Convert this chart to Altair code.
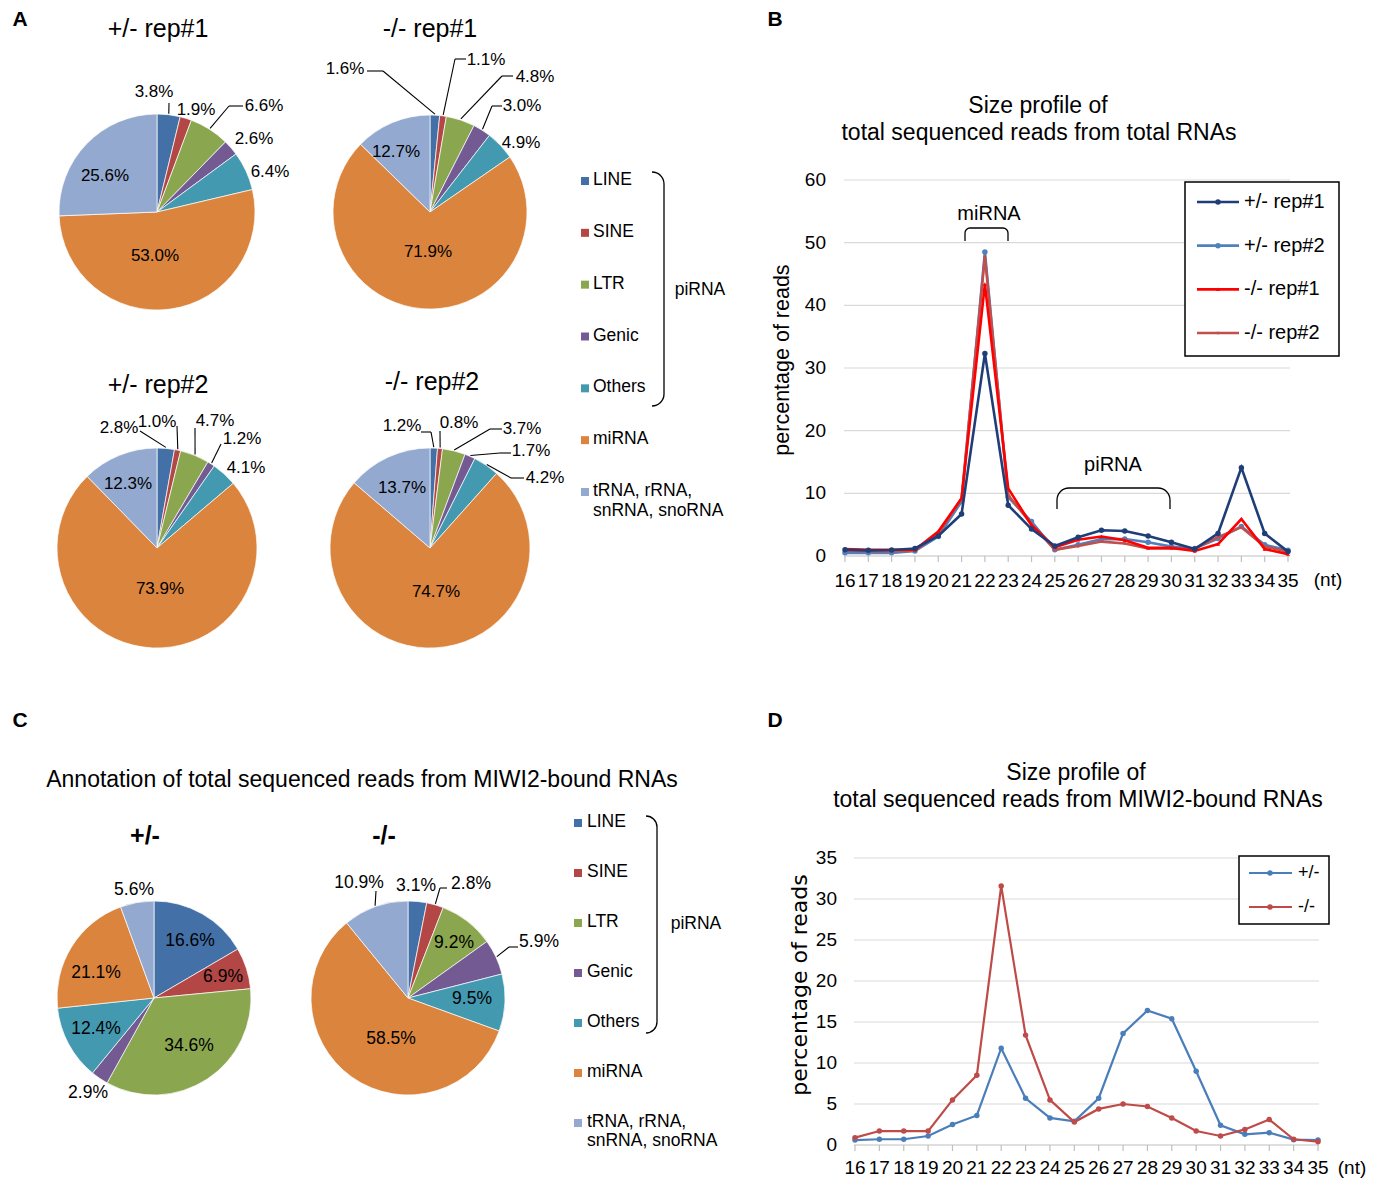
import math
import altair as alt
import pandas as pd

# ---------------- data ----------------
cats = ["LINE", "SINE", "LTR", "Genic", "Others", "miRNA", "tRNA, rRNA, snRNA, snoRNA"]
legend_labels = ["LINE", "SINE", "LTR", "Genic", "Others", "miRNA", "tRNA, rRNA,\nsnRNA, snoRNA"]
cat_colors = ["#4470A8", "#B24745", "#8AA64E", "#735A92", "#4399B0", "#DB843D", "#93A9CF"]

a_het_rep1 = [3.8, 1.9, 6.6, 2.6, 6.4, 53.0, 25.6]
a_ko_rep1 = [1.6, 1.1, 4.8, 3.0, 4.9, 71.9, 12.7]
a_het_rep2 = [2.8, 1.0, 4.7, 1.2, 4.1, 73.9, 12.3]
a_ko_rep2 = [1.2, 0.8, 3.7, 1.7, 4.2, 74.7, 13.7]
c_het = [16.6, 6.9, 34.6, 2.9, 12.4, 21.1, 5.6]
c_ko = [3.1, 2.8, 9.2, 5.9, 9.5, 58.5, 10.9]

nt = list(range(16, 36))
b_series = ["+/- rep#1", "+/- rep#2", "-/- rep#1", "-/- rep#2"]
b_colors = ["#1F3E78", "#4F81BD", "#FF0000", "#C0504D"]
b_het_rep1 = [1.0, 0.9, 0.95, 1.2, 3.2, 6.7, 32.3, 8.1, 4.3, 1.6, 3.0, 4.1, 4.0, 3.2, 2.2, 1.1, 3.6, 14.1, 3.6, 0.7]
b_het_rep2 = [0.5, 0.5, 0.5, 0.8, 3.1, 8.7, 48.5, 9.4, 5.5, 1.0, 1.8, 2.7, 2.7, 2.2, 1.5, 1.2, 2.8, 4.7, 1.8, 0.9]
b_ko_rep1 = [1.1, 1.0, 1.0, 1.0, 3.9, 9.2, 43.4, 10.8, 4.9, 1.4, 2.6, 3.1, 2.5, 1.3, 1.3, 0.8, 1.9, 5.9, 1.1, 0.3]
b_ko_rep2 = [0.85, 0.75, 0.75, 0.85, 3.6, 9.2, 47.8, 9.7, 5.1, 1.0, 1.6, 2.3, 2.0, 1.2, 1.2, 1.2, 3.0, 4.6, 1.5, 0.7]
b_yticks = [0, 10, 20, 30, 40, 50, 60]

d_series = ["+/-", "-/-"]
d_colors = ["#4A7EBB", "#BE4B48"]
d_het = [0.6, 0.7, 0.7, 1.1, 2.5, 3.6, 11.8, 5.7, 3.3, 2.9, 5.7, 13.6, 16.4, 15.4, 9.0, 2.4, 1.3, 1.5, 0.65, 0.6]
d_ko = [0.9, 1.7, 1.7, 1.7, 5.5, 8.5, 31.6, 13.4, 5.5, 2.8, 4.4, 5.0, 4.7, 3.3, 1.7, 1.1, 1.9, 3.1, 0.7, 0.4]
d_yticks = [0, 5, 10, 15, 20, 25, 30, 35]

# ---------------- layout helpers ----------------
FONT = "Liberation Sans, Arial, Helvetica, sans-serif"
NARROW = "Liberation Sans Narrow, Arial Narrow, Liberation Sans, Arial, sans-serif"
WIDE = "DejaVu Sans, Verdana, sans-serif"
DUMMY = pd.DataFrame({"d": [0]})
PI = math.pi


def P(v):
    # page pixel -> chart pixel (page has an 8px margin)
    return v - 8


def text(s, x, y, size, font=FONT, weight="normal", align="center", angle=None):
    kw = dict(text=s, fontSize=size, font=font, fontWeight=weight, align=align,
              baseline="middle", color="black")
    if angle is not None:
        kw["angle"] = angle
    return alt.Chart(DUMMY).mark_text(**kw).encode(x=alt.value(P(x)), y=alt.value(P(y)))


def seg(x1, y1, x2, y2, w=1.3, color="black"):
    return alt.Chart(DUMMY).mark_rule(color=color, strokeWidth=w).encode(
        x=alt.value(P(x1)), y=alt.value(P(y1)), x2=alt.value(P(x2)), y2=alt.value(P(y2)))


def corner(cx, cy, rad, t1, t2, w=1.3):
    return alt.Chart(DUMMY).mark_arc(radius=rad + w / 2, radius2=rad - w / 2, theta=t1,
                                     theta2=t2, color="black").encode(
        x=alt.value(P(cx)), y=alt.value(P(cy)))


cat_scale = alt.Scale(domain=cats, range=cat_colors)

layers = []


def pie(vals, cx, cy, r, labels, leaders, size, font=FONT):
    df = pd.DataFrame({"cat": cats, "v": vals, "idx": list(range(len(cats)))})
    out = []
    out.append(alt.Chart(df).mark_arc(outerRadius=r, stroke="white", strokeWidth=0.7).encode(
        theta=alt.Theta("v:Q", stack=True),
        color=alt.Color("cat:N", scale=cat_scale, legend=None),
        order=alt.Order("idx:Q", sort="ascending"),
        x=alt.value(P(cx)), y=alt.value(P(cy))))
    # leader lines: start at slice mid-angle on the rim (computed from the data)
    ld = df.copy()
    ld["ax"] = [P(leaders[i][0]) if i in leaders else None for i in range(len(cats))]
    ld["ay"] = [P(leaders[i][1]) if i in leaders else None for i in range(len(cats))]
    ld["hx"] = [P(leaders[i][2]) if (i in leaders and leaders[i][2] is not None) else None
                for i in range(len(cats))]
    if leaders:
        base = (alt.Chart(ld)
                .transform_window(cum="sum(v)", sort=[alt.SortField("idx", order="ascending")])
                .transform_joinaggregate(total="sum(v)")
                .transform_calculate(ang="2*PI*(datum.cum - datum.v/2)/datum.total")
                .transform_calculate(ex=f"{P(cx)} + {r + 1}*sin(datum.ang)",
                                     ey=f"{P(cy)} - {r + 1}*cos(datum.ang)")
                .transform_filter("isValid(datum.ax)"))
        out.append(base.mark_rule(color="black", strokeWidth=1.1).encode(
            x=alt.X("ex:Q", scale=None), y=alt.Y("ey:Q", scale=None), x2="ax:Q", y2="ay:Q"))
        out.append(base.transform_filter("isValid(datum.hx)").mark_rule(
            color="black", strokeWidth=1.1).encode(
            x=alt.X("ax:Q", scale=None), x2="hx:Q", y=alt.Y("ay:Q", scale=None)))
    lab = pd.DataFrame({"t": [f"{v:.1f}%" for v in vals],
                        "lx": [P(p[0]) for p in labels],
                        "ly": [P(p[1]) for p in labels]})
    out.append(alt.Chart(lab).mark_text(fontSize=size, font=font, baseline="middle",
                                        align="center", color="black").encode(
        x=alt.X("lx:Q", scale=None), y=alt.Y("ly:Q", scale=None), text="t:N"))
    return out


# ---------------- panel letters ----------------
for s, x, y in [("A", 20, 20), ("B", 775, 20), ("C", 20, 721), ("D", 775, 721)]:
    layers.append(text(s, x, y, 21, weight="bold"))

# ---------------- panel A ----------------
layers.append(text("+/- rep#1", 158, 29, 25))
layers.append(text("-/- rep#1", 430, 29, 25))
layers.append(text("+/- rep#2", 158, 385, 25))
layers.append(text("-/- rep#2", 432, 382, 25))

layers += pie(a_het_rep1, 157, 212, 98,
              [(154, 92), (196, 110), (264, 106), (254, 139), (270, 172), (155, 256), (105, 176)],
              {0: (169, 103, None), 2: (229, 106, 243)}, 17)
layers += pie(a_ko_rep1, 430, 212, 97,
              [(345, 69), (486, 60), (535, 77), (522, 106), (521, 143), (428, 252), (396, 152)],
              {0: (383, 71, 367), 1: (455, 59, 466), 2: (502, 76, 513), 3: (492, 106, 502)}, 17)
layers += pie(a_het_rep2, 157, 548, 100,
              [(119, 428), (157, 422), (215, 421), (242, 439), (246, 468), (160, 589), (128, 484)],
              {0: (140, 431, None), 1: (177, 426, None), 2: (195, 428, None), 3: (221, 444, None)}, 17)
layers += pie(a_ko_rep2, 430, 548, 100,
              [(402, 426), (459, 423), (522, 429), (531, 451), (545, 478), (436, 592), (402, 488)],
              {0: (431, 432, 421), 1: (440, 431, None), 2: (490, 429, 502),
               3: (500, 453, 511), 4: (511, 478, 524)}, 17)

# legend A
legA = pd.DataFrame({"cat": cats, "lab": legend_labels})
yA = alt.Scale(type="point", domain=cats, range=[P(181), P(492)], padding=0)
layers.append(alt.Chart(legA).mark_square(size=64, opacity=1).encode(
    y=alt.Y("cat:N", scale=yA, axis=None), x=alt.value(P(585)),
    color=alt.Color("cat:N", scale=cat_scale, legend=None)))
layers.append(alt.Chart(legA).mark_text(align="left", baseline="top", dy=-10, fontSize=17.5,
                                        font=FONT, lineBreak="\n", lineHeight=20,
                                        color="black").encode(
    y=alt.Y("cat:N", scale=yA, axis=None), x=alt.value(P(593)), text="lab:N"))
layers.append(corner(652, 184, 12, 0, PI / 2))
layers.append(seg(664, 184, 664, 394))
layers.append(corner(652, 394, 12, PI / 2, PI))
layers.append(text("piRNA", 700, 290, 17.5))

# ---------------- panel B ----------------
xB = alt.Scale(domain=[16, 35], range=[P(845), P(1288)], nice=False, zero=False)
yB = alt.Scale(domain=[0, 60], range=[P(556), P(180)], nice=False, zero=False)

layers.append(text("Size profile of", 1038, 106, 23))
layers.append(text("total sequenced reads from total RNAs", 1039, 133, 23))
layers.append(text("percentage of reads", 783, 360, 21.5, angle=270))
layers.append(text("(nt)", 1328, 580, 19, font=NARROW))

gridB = pd.DataFrame({"g": b_yticks})
layers.append(alt.Chart(gridB).transform_filter("datum.g > 0").mark_rule(
    color="#d9d9d9", strokeWidth=1.2).encode(
    y=alt.Y("g:Q", scale=yB, axis=None), x=alt.value(P(844)), x2=alt.value(P(1290))))
layers.append(alt.Chart(gridB).transform_filter("datum.g == 0").mark_rule(
    color="#bfbfbf", strokeWidth=1.2).encode(
    y=alt.Y("g:Q", scale=yB, axis=None), x=alt.value(P(844)), x2=alt.value(P(1290))))
layers.append(alt.Chart(gridB).mark_text(align="right", baseline="middle", fontSize=19,
                                         font=NARROW, color="black").encode(
    y=alt.Y("g:Q", scale=yB, axis=None), x=alt.value(P(826)), text="g:Q"))
ntB = pd.DataFrame({"nt": nt})
layers.append(alt.Chart(ntB).mark_rule(color="#bfbfbf", strokeWidth=1.2).encode(
    x=alt.X("nt:Q", scale=xB, axis=None), y=alt.value(P(556)), y2=alt.value(P(562))))
layers.append(alt.Chart(ntB).mark_text(baseline="middle", fontSize=19, font=NARROW,
                                       color="black").encode(
    x=alt.X("nt:Q", scale=xB, axis=None), y=alt.value(P(581)), text="nt:Q"))

b_vals = [b_het_rep1, b_het_rep2, b_ko_rep1, b_ko_rep2]
b_shapes = ["circle", "circle", "triangle-up", "square"]
b_sizes = [30, 30, 16, 6]
for i in [1, 3, 2, 0]:
    dfs = pd.DataFrame({"nt": nt, "pct": b_vals[i]})
    layers.append(alt.Chart(dfs).mark_line(
        color=b_colors[i], strokeWidth=2.6,
        point=alt.OverlayMarkDef(color=b_colors[i], filled=True, shape=b_shapes[i],
                                 size=b_sizes[i], opacity=1)).encode(
        x=alt.X("nt:Q", scale=xB, axis=None), y=alt.Y("pct:Q", scale=yB, axis=None)))

# miRNA / piRNA braces
layers.append(text("miRNA", 989, 214, 20))
layers.append(corner(970, 233, 5, 3 * PI / 2, 2 * PI))
layers.append(seg(970, 228, 1003, 228))
layers.append(corner(1003, 233, 5, 0, PI / 2))
layers.append(seg(965, 233, 965, 241))
layers.append(seg(1008, 233, 1008, 241))
layers.append(text("piRNA", 1113, 465, 20))
layers.append(corner(1069, 500, 12, 3 * PI / 2, 2 * PI))
layers.append(seg(1069, 488, 1158, 488))
layers.append(corner(1158, 500, 12, 0, PI / 2))
layers.append(seg(1057, 500, 1057, 509))
layers.append(seg(1170, 500, 1170, 509))

# legend B
layers.append(alt.Chart(DUMMY).mark_rect(fill="white", stroke="black", strokeWidth=1.5).encode(
    x=alt.value(P(1185)), x2=alt.value(P(1339)), y=alt.value(P(182)), y2=alt.value(P(356))))
legB = pd.DataFrame({"s": b_series})
yLB = alt.Scale(type="point", domain=b_series, range=[P(202), P(333)], padding=0)
colB = alt.Scale(domain=b_series, range=b_colors)
layers.append(alt.Chart(legB).mark_rule(strokeWidth=2.6).encode(
    y=alt.Y("s:N", scale=yLB, axis=None), x=alt.value(P(1197)), x2=alt.value(P(1239)),
    color=alt.Color("s:N", scale=colB, legend=None)))
for i, s in enumerate(b_series):
    layers.append(alt.Chart(legB).transform_filter(alt.datum.s == s).mark_point(
        filled=True, opacity=1, shape=b_shapes[i], size=b_sizes[i]).encode(
        y=alt.Y("s:N", scale=yLB, axis=None), x=alt.value(P(1218)),
        color=alt.Color("s:N", scale=colB, legend=None)))
layers.append(alt.Chart(legB).mark_text(align="left", baseline="middle", fontSize=20,
                                        font=FONT, color="black").encode(
    y=alt.Y("s:N", scale=yLB, axis=None), x=alt.value(P(1244)), text="s:N"))

# ---------------- panel C ----------------
layers.append(text("Annotation of total sequenced reads from MIWI2-bound RNAs", 362, 780, 23))
layers.append(text("+/-", 145, 836, 25, weight="bold"))
layers.append(text("-/-", 384, 836, 25, weight="bold"))

layers += pie(c_het, 154, 998, 97,
              [(190, 941), (223, 977), (189, 1046), (88, 1093), (96, 1029), (96, 973), (134, 890)],
              {}, 17.5)
layers += pie(c_ko, 408, 998, 97,
              [(416, 886), (471, 884), (454, 943), (539, 942), (472, 999), (391, 1039), (359, 883)],
              {1: (440, 888, 447), 3: (509, 947, 518), 6: (376, 891, None)}, 17.5)

legC = pd.DataFrame({"cat": cats, "lab": legend_labels})
yC = alt.Scale(type="point", domain=cats, range=[P(823), P(1123)], padding=0)
layers.append(alt.Chart(legC).mark_square(size=64, opacity=1).encode(
    y=alt.Y("cat:N", scale=yC, axis=None), x=alt.value(P(578)),
    color=alt.Color("cat:N", scale=cat_scale, legend=None)))
layers.append(alt.Chart(legC).mark_text(align="left", baseline="top", dy=-10, fontSize=17.5,
                                        font=FONT, lineBreak="\n", lineHeight=19,
                                        color="black").encode(
    y=alt.Y("cat:N", scale=yC, axis=None), x=alt.value(P(587)), text="lab:N"))
layers.append(corner(646, 827, 11, 0, PI / 2))
layers.append(seg(657, 827, 657, 1022))
layers.append(corner(646, 1022, 11, PI / 2, PI))
layers.append(text("piRNA", 696, 924, 17.5))

# ---------------- panel D ----------------
xD = alt.Scale(domain=[16, 35], range=[P(855), P(1318)], nice=False, zero=False)
yD = alt.Scale(domain=[0, 35], range=[P(1145), P(858)], nice=False, zero=False)

layers.append(text("Size profile of", 1076, 773, 23))
layers.append(text("total sequenced reads from MIWI2-bound RNAs", 1078, 800, 23))
layers.append(text("percentage of reads", 800, 985, 22, font=WIDE, angle=270))
layers.append(text("(nt)", 1352, 1168, 19, font=NARROW))

gridD = pd.DataFrame({"g": d_yticks})
layers.append(alt.Chart(gridD).transform_filter("datum.g > 0").mark_rule(
    color="#d9d9d9", strokeWidth=1.2).encode(
    y=alt.Y("g:Q", scale=yD, axis=None), x=alt.value(P(854)), x2=alt.value(P(1319))))
layers.append(alt.Chart(gridD).transform_filter("datum.g == 0").mark_rule(
    color="#bfbfbf", strokeWidth=1.2).encode(
    y=alt.Y("g:Q", scale=yD, axis=None), x=alt.value(P(854)), x2=alt.value(P(1319))))
layers.append(alt.Chart(gridD).mark_text(align="right", baseline="middle", fontSize=19,
                                         font=NARROW, color="black").encode(
    y=alt.Y("g:Q", scale=yD, axis=None), x=alt.value(P(837)), text="g:Q"))
ntD = pd.DataFrame({"nt": nt})
layers.append(alt.Chart(ntD).mark_rule(color="#bfbfbf", strokeWidth=1.2).encode(
    x=alt.X("nt:Q", scale=xD, axis=None), y=alt.value(P(1145)), y2=alt.value(P(1151))))
layers.append(alt.Chart(ntD).mark_text(baseline="middle", fontSize=19, font=NARROW,
                                       color="black").encode(
    x=alt.X("nt:Q", scale=xD, axis=None), y=alt.value(P(1168)), text="nt:Q"))

d_vals = [d_het, d_ko]
for i in [0, 1]:
    dfs = pd.DataFrame({"nt": nt, "pct": d_vals[i]})
    layers.append(alt.Chart(dfs).mark_line(
        color=d_colors[i], strokeWidth=2.2,
        point=alt.OverlayMarkDef(color=d_colors[i], filled=True, size=30, opacity=1)).encode(
        x=alt.X("nt:Q", scale=xD, axis=None), y=alt.Y("pct:Q", scale=yD, axis=None)))

layers.append(alt.Chart(DUMMY).mark_rect(fill="white", stroke="black", strokeWidth=1.5).encode(
    x=alt.value(P(1239)), x2=alt.value(P(1329)), y=alt.value(P(856)), y2=alt.value(P(924))))
legD = pd.DataFrame({"s": d_series})
yLD = alt.Scale(type="point", domain=d_series, range=[P(873), P(907)], padding=0)
colD = alt.Scale(domain=d_series, range=d_colors)
layers.append(alt.Chart(legD).mark_rule(strokeWidth=2.2).encode(
    y=alt.Y("s:N", scale=yLD, axis=None), x=alt.value(P(1249)), x2=alt.value(P(1292)),
    color=alt.Color("s:N", scale=colD, legend=None)))
layers.append(alt.Chart(legD).mark_point(filled=True, opacity=1, size=30).encode(
    y=alt.Y("s:N", scale=yLD, axis=None), x=alt.value(P(1270)),
    color=alt.Color("s:N", scale=colD, legend=None)))
layers.append(alt.Chart(legD).mark_text(align="left", baseline="middle", fontSize=18,
                                        font=FONT, color="black").encode(
    y=alt.Y("s:N", scale=yLD, axis=None), x=alt.value(P(1298)), text="s:N"))

chart = (alt.layer(*layers)
         .resolve_scale(x="independent", y="independent", color="independent",
                        theta="independent", shape="independent", size="independent")
         .properties(width=1370, height=1172, padding=0, autosize="none", background="white")
         .configure_view(strokeWidth=0))

chart.save("out.html", embed_options={"renderer": "svg", "actions": False})
